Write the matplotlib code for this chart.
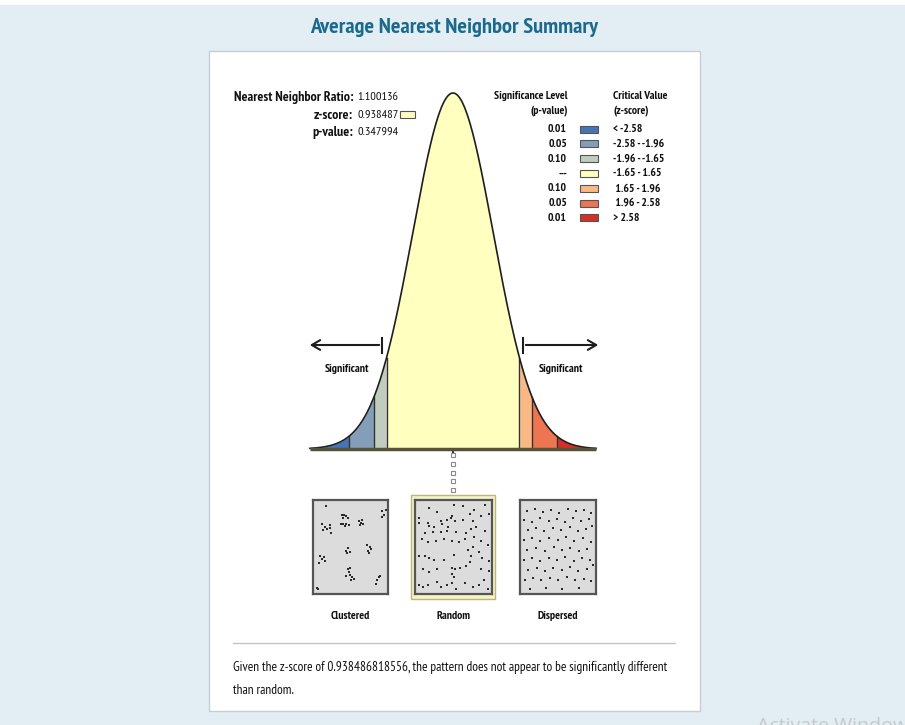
import numpy as np
import matplotlib.pyplot as plt
from matplotlib.patches import Rectangle

plt.rcParams['font.family'] = ['PT Sans Narrow', 'DejaVu Sans']

# ---- values ----
title = "Average Nearest Neighbor Summary"
nn_ratio = "1.100136"
z_score = "0.938487"
p_value = "0.347994"
z_full = "0.938486818556"

z_bounds = [-2.58, -1.96, -1.65, 1.65, 1.96, 2.58]
sig_levels = ["0.01", "0.05", "0.10", "---", "0.10", "0.05", "0.01"]
crit_labels = ["< -2.58", "-2.58 - -1.96", "-1.96 - -1.65", "-1.65 - 1.65",
               " 1.65 - 1.96", " 1.96 - 2.58", "> 2.58"]
bin_colors = ["#4575b5", "#849eba", "#c0ccbe", "#ffffbf", "#fab984", "#ed7551", "#d62f27"]

pattern_names = ["Clustered", "Random", "Dispersed"]

# point patterns (x, y in percent of box, y measured from the top)
clustered_x = [15.6, 37.8, 40.9, 44.4, 39.1, 47.1, 36.4, 40, 43.6, 48, 41.8,
               11.1, 14.2, 12.4, 16.9, 21.3, 23.1, 22.2,
               61.3, 64.4, 67.6, 62.7, 65.3, 94.2, 96.9, 93.3, 98.7,
               43.6, 46.7, 48.9, 45.3, 73.3, 76.4, 74.7, 77.8, 75.6,
               8, 9.8, 13.3, 14.2, 6.7,
               46.7, 48.9, 44.4, 49.8, 52.4, 54.2, 51.1, 48,
               86.7, 88.9, 91.1, 85.3, 3.6, 5.3]
clustered_y = [4.3, 14.9, 14.2, 16.0, 18.4, 17.7, 24.8, 24.8, 24.1, 25.5, 27,
               24.8, 27.7, 31.2, 30.1, 29.1, 34.8, 26.2,
               21.3, 23, 24.8, 25.5, 20.6, 10.6, 14.2, 17, 8.9,
               53.9, 51.4, 55, 56.7, 47.9, 50.4, 53.9, 52.5, 56.7,
               59.6, 63.8, 61, 65.6, 67.4,
               74.5, 72.7, 82.3, 80.9, 83.3, 85.1, 86.9, 78,
               86.9, 83.3, 82.3, 90.4, 95, 96.8]

random_x = [17, 28, 50, 63, 78, 93, 98,
            4, 4, 15, 17, 24, 33, 35, 41, 46, 48, 52, 63, 72, 76, 87,
            11, 22, 33, 41, 43, 54, 67, 74, 80, 93,
            7, 15, 26, 37, 48, 57, 65, 78, 87,
            4, 12, 17, 24, 37, 50, 70, 76, 74, 85, 89, 96, 98,
            9, 17, 28, 48, 52, 59, 48, 50, 67, 72, 87, 98,
            4, 9, 15, 28, 33, 41, 48, 54, 65, 76, 85, 91, 96]
random_y = [7, 11, 4, 5, 9, 4, 14,
            18, 23, 23, 27, 28, 21, 25, 20, 18, 16, 21, 20, 14, 21, 16,
            35, 33, 33, 32, 28, 33, 35, 30, 28, 32,
            41, 44, 43, 41, 43, 44, 41, 39, 43,
            60, 60, 62, 64, 64, 59, 53, 50, 60, 55, 62, 48, 66,
            74, 78, 74, 73, 74, 73, 80, 83, 71, 67, 74, 76,
            92, 94, 92, 89, 94, 92, 90, 96, 90, 94, 92, 87, 96]

dispersed_x = [7, 18, 29, 41, 52, 63, 74, 86, 95,
               4, 14, 25, 37, 48, 59, 70, 81, 92,
               9, 20, 31, 43, 54, 66, 77, 88, 97,
               3, 15, 26, 38, 50, 61, 72, 84, 95,
               8, 20, 32, 44, 55, 67, 79, 90,
               4, 14, 26, 37, 49, 60, 72, 83, 94,
               9, 21, 32, 43, 55, 66, 77, 89, 98,
               5, 16, 27, 39, 50, 62, 73, 85, 95,
               11, 33, 56, 79]
dispersed_y = [10, 8, 11, 9, 12, 8, 10, 9, 12,
               20, 22, 18, 21, 19, 22, 18, 21, 19,
               31, 29, 32, 29, 31, 28, 32, 30, 27,
               42, 40, 43, 40, 42, 39, 43, 40, 44,
               53, 51, 54, 50, 53, 51, 54, 52,
               64, 62, 65, 62, 64, 61, 65, 62, 64,
               75, 73, 76, 73, 75, 72, 76, 74, 70,
               86, 84, 87, 84, 86, 83, 87, 85, 88,
               96, 95, 96, 95]

patterns = [(clustered_x, clustered_y), (random_x, random_y), (dispersed_x, dispersed_y)]

# ---- figure in pixel layout ----
W, H = 905, 725
fig = plt.figure(figsize=(W / 100, H / 100), dpi=100)
fig.patch.set_facecolor("#e3eef4")

ax0 = fig.add_axes([0, 0, 1, 1])
ax0.set_xlim(0, W)
ax0.set_ylim(H, 0)
ax0.axis("off")

def fig_box(x0, y0, x1, y1):
    return [x0 / W, 1 - y1 / H, (x1 - x0) / W, (y1 - y0) / H]

ink = "#111"
ax0.add_patch(Rectangle((0, 0), W, 5, facecolor="white", edgecolor="none"))
ax0.add_patch(Rectangle((209, 51), 491, 660, facecolor="white", edgecolor="#c5ced3", lw=1))

ax0.text(454, 27, title, ha="center", va="center", fontsize=16.2, fontweight="bold", color="#1b6a8c")

# stats block
lab_x, val_x = 353, 357
for yy, lab, val in [(97, "Nearest Neighbor Ratio:", nn_ratio),
                     (115, "z-score:", z_score),
                     (132, "p-value:", p_value)]:
    ax0.text(lab_x, yy, lab, ha="right", va="center", fontsize=10, fontweight="bold", color=ink)
    ax0.text(val_x, yy, val, ha="left", va="center", fontsize=8.8, color=ink)
ax0.add_patch(Rectangle((400, 111), 15, 7, facecolor=bin_colors[3], edgecolor="#555", lw=0.8))

# legend
fs_leg = 8.4
ax0.text(568, 96, "Significance Level", ha="right", va="center", fontsize=fs_leg, fontweight="bold", color=ink)
ax0.text(568, 111, "(p-value)", ha="right", va="center", fontsize=fs_leg, fontweight="bold", color=ink)
ax0.text(613, 96, "Critical Value", ha="left", va="center", fontsize=fs_leg, fontweight="bold", color=ink)
ax0.text(613, 111, "(z-score)", ha="left", va="center", fontsize=fs_leg, fontweight="bold", color=ink)
for i, (lvl, crit, col) in enumerate(zip(sig_levels, crit_labels, bin_colors)):
    yy = 129 + i * 14.8
    ax0.text(567, yy, lvl, ha="right", va="center", fontsize=fs_leg, fontweight="bold", color=ink)
    ax0.add_patch(Rectangle((580, yy - 3.5), 18, 7, facecolor=col, edgecolor="#555", lw=0.8))
    ax0.text(613, yy, crit, ha="left", va="center", fontsize=fs_leg, fontweight="bold", color=ink)

# bell curve
axc = fig.add_axes(fig_box(310, 93, 596, 449))
zmax = 3.55
z = np.linspace(-zmax, zmax, 800)
pdf = np.exp(-z ** 2 / 2) / np.sqrt(2 * np.pi)
edges = [-zmax] + z_bounds + [zmax]
for lo, hi, col in zip(edges[:-1], edges[1:], bin_colors):
    m = (z >= lo) & (z <= hi)
    axc.fill_between(z[m], 0, pdf[m], color=col, lw=0)
for b in z_bounds:
    axc.plot([b, b], [0, np.exp(-b ** 2 / 2) / np.sqrt(2 * np.pi)], color="#333", lw=1)
axc.plot(z, pdf, color="#1e1e1e", lw=1.2, clip_on=False)
axc.plot([-zmax, zmax], [0, 0], color="#55533a", lw=2.5, clip_on=False, solid_capstyle="butt")
axc.set_xlim(-zmax, zmax)
axc.set_ylim(0, pdf.max())
axc.axis("off")

ax0.text(454, 347, "(Random)", ha="center", va="center", fontsize=9, fontweight="bold", color=ink)
ax0.text(347, 369, "Significant", ha="center", va="center", fontsize=8.5, fontweight="bold", color=ink)
ax0.text(561, 369, "Significant", ha="center", va="center", fontsize=8.5, fontweight="bold", color=ink)

arrow_kw = dict(arrowstyle="->,head_length=0.6,head_width=0.35", color="#1e1e1e", lw=1.5)
ax0.annotate("", xy=(307, 345), xytext=(382, 345), arrowprops=arrow_kw)
ax0.annotate("", xy=(601, 345), xytext=(523, 345), arrowprops=arrow_kw)
ax0.plot([382, 382], [338, 353], color="#1e1e1e", lw=1.5)
ax0.plot([523, 523], [338, 353], color="#1e1e1e", lw=1.5)

# connector from the curve to the random box
ax0.plot([453, 453], [445, 452], color="#333", lw=1.5)
conn_y = np.linspace(455, 490, 5)
ax0.plot(np.full_like(conn_y, 453), conn_y, ls="none", marker="s", ms=3.5,
         mfc="white", mec="#8a8a8a", mew=0.8)

# pattern boxes
ax0.add_patch(Rectangle((411, 495), 84, 104, facecolor="#f6f3c8", edgecolor="#bdb67a", lw=1))
box_x = [(313, 388), (415, 492), (520, 596)]
for (x0, x1), name, (px, py) in zip(box_x, pattern_names, patterns):
    ab = fig.add_axes(fig_box(x0, 500, x1, 594))
    ab.set_facecolor("#dcdcdc")
    ab.scatter(px, py, s=4, marker="s", color="#2a2a2a", lw=0)
    ab.set_xlim(-2, 102)
    ab.set_ylim(102, -2)
    ab.set_xticks([])
    ab.set_yticks([])
    for sp in ab.spines.values():
        sp.set_color("#555")
        sp.set_linewidth(1.6)
    ax0.text((x0 + x1) / 2, 616, name, ha="center", va="center", fontsize=8.4, fontweight="bold", color=ink)

# footer
ax0.plot([233, 675], [643, 643], color="#c4c4c4", lw=1)
ax0.text(233, 667, "Given the z-score of " + z_full + ", the pattern does not appear to be significantly different",
         ha="left", va="center", fontsize=9.6, color=ink)
ax0.text(233, 690, "than random.", ha="left", va="center", fontsize=9.6, color=ink)

ax0.text(757, 731, "Activate Windows", ha="left", va="baseline", fontsize=14,
         family=["Open Sans", "DejaVu Sans"], color="#c3c9cd")

fig.savefig("out.png", dpi=100, facecolor=fig.get_facecolor())
